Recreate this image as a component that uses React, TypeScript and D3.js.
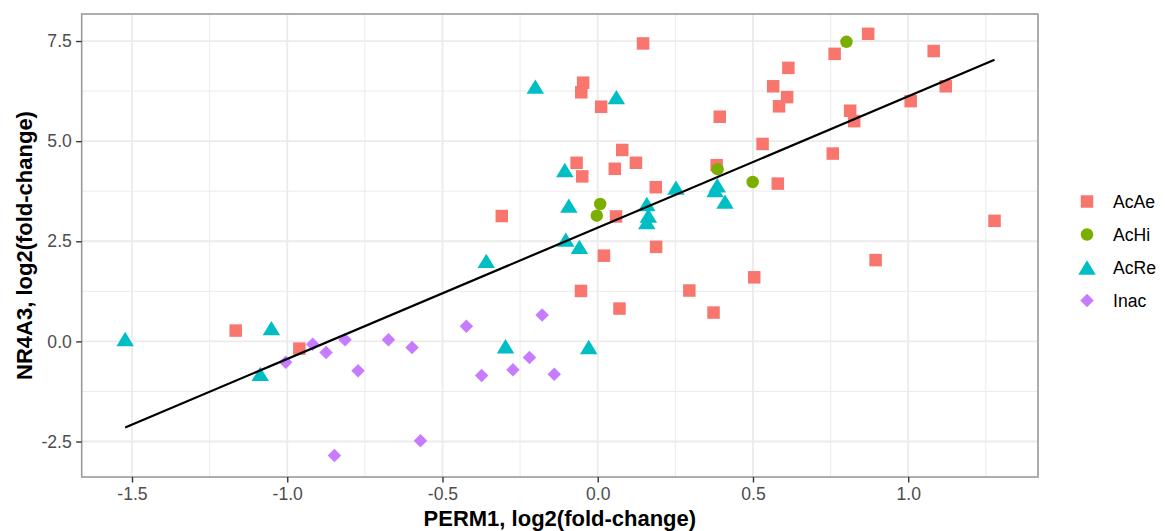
import React, { useEffect, useRef } from "react";
import * as d3 from "d3";

// PERM1 vs NR4A3 log2 fold-change, one array per group
const acAeX = [-1.166, -0.961, -0.309, -0.054, -0.047, -0.053, 0.011, 0.146, -0.068, -0.05, 0.079, 0.123, 0.055, 0.187, 0.059, 0.188, 0.02, 0.393, 0.383, 0.295, 0.07, 0.373, 0.871, 0.763, 1.082, 0.614, 0.565, 0.61, 0.584, 1.121, 1.008, 0.813, 0.826, 0.531, 0.757, 0.58, 1.278, 0.895, 0.504];
const acAeY = [0.27, -0.18, 3.13, 1.26, 6.46, 6.22, 5.86, 7.44, 4.46, 4.12, 4.78, 4.46, 4.31, 3.85, 3.12, 2.36, 2.14, 5.61, 4.4, 1.27, 0.82, 0.72, 7.68, 7.18, 7.25, 6.83, 6.37, 6.1, 5.87, 6.37, 6.0, 5.76, 5.5, 4.93, 4.69, 3.94, 3.01, 2.03, 1.6];

const acHiX = [0.008, -0.003, 0.801, 0.499, 0.386];
const acHiY = [3.43, 3.14, 7.48, 3.98, 4.3];

const acReX = [-0.201, 0.06, -0.106, -0.093, 0.158, 0.163, 0.158, 0.252, 0.385, 0.378, 0.41, -0.103, -0.059, -0.359, -0.297, -0.029, -1.522, -1.051, -1.087];
const acReY = [6.36, 6.1, 4.28, 3.39, 3.43, 3.14, 2.98, 3.84, 3.9, 3.78, 3.49, 2.54, 2.36, 2.01, -0.12, -0.14, 0.06, 0.33, -0.81];

const inacX = [-1.005, -0.918, -0.875, -0.814, -0.772, -0.674, -0.848, -0.598, -0.571, -0.423, -0.374, -0.273, -0.22, -0.179, -0.14];
const inacY = [-0.52, -0.07, -0.28, 0.04, -0.73, 0.04, -2.85, -0.15, -2.48, 0.38, -0.85, -0.71, -0.4, 0.66, -0.82];

const groups = ["AcAe", "AcHi", "AcRe", "Inac"];
const groupColors = ["#F8766D", "#7CAE00", "#00BFC4", "#C77CFF"];

// fitted line end points
const fitX = [-1.522, 1.278];
const fitY = [-2.15, 7.03];

const xTicks = [-1.5, -1.0, -0.5, 0.0, 0.5, 1.0];
const xMinor = [-1.25, -0.75, -0.25, 0.25, 0.75, 1.25];
const yTicks = [-2.5, 0.0, 2.5, 5.0, 7.5];
const yMinor = [-1.25, 1.25, 3.75, 6.25];

const W = 1165, H = 531;
const FONT = "'Liberation Sans', Arial, Helvetica, sans-serif";

// marker shapes, sized by side/diameter in px
const square = { draw(ctx: any, s: number) { const h = s / 2; ctx.rect(-h, -h, s, s); } };
const circle = { draw(ctx: any, s: number) { ctx.moveTo(s / 2, 0); ctx.arc(0, 0, s / 2, 0, 2 * Math.PI); } };
const triangle = { draw(ctx: any, s: number) { const h = s * 0.82; ctx.moveTo(0, -h / 2); ctx.lineTo(s / 2, h / 2); ctx.lineTo(-s / 2, h / 2); ctx.closePath(); } };
const diamond = { draw(ctx: any, s: number) { const h = s / 2; ctx.moveTo(0, -h); ctx.lineTo(h, 0); ctx.lineTo(0, h); ctx.lineTo(-h, 0); ctx.closePath(); } };
const shapes = [square, circle, triangle, diamond];
const shapeSizes = [12.5, 12.5, 17.5, 13.5];

export default function App() {
  const ref = useRef<SVGSVGElement>(null);

  useEffect(() => {
    const svg = d3.select(ref.current);
    svg.selectAll("*").remove();

    const left = 81.7, right = 1038, top = 14, bottom = 477;

    const x = d3.scaleLinear().domain([-1.662, 1.418]).range([left, right]);
    const y = d3.scaleLinear().domain([-3.386, 8.175]).range([bottom, top]);

    svg.append("rect").attr("width", W).attr("height", H).attr("fill", "#fff");

    const grid = svg.append("g");
    grid.selectAll(".xm").data(xMinor).join("line")
      .attr("x1", d => x(d)).attr("x2", d => x(d)).attr("y1", top).attr("y2", bottom)
      .attr("stroke", "#EBEBEB").attr("stroke-width", 1);
    grid.selectAll(".ym").data(yMinor).join("line")
      .attr("y1", d => y(d)).attr("y2", d => y(d)).attr("x1", left).attr("x2", right)
      .attr("stroke", "#EBEBEB").attr("stroke-width", 1);
    grid.selectAll(".xM").data(xTicks).join("line")
      .attr("x1", d => x(d)).attr("x2", d => x(d)).attr("y1", top).attr("y2", bottom)
      .attr("stroke", "#EBEBEB").attr("stroke-width", 1.8);
    grid.selectAll(".yM").data(yTicks).join("line")
      .attr("y1", d => y(d)).attr("y2", d => y(d)).attr("x1", left).attr("x2", right)
      .attr("stroke", "#EBEBEB").attr("stroke-width", 1.8);

    // points
    const series = [[acAeX, acAeY], [acHiX, acHiY], [acReX, acReY], [inacX, inacY]];
    series.forEach(([xs, ys], i) => {
      const sym = d3.symbol().type(shapes[i] as any).size(shapeSizes[i]);
      svg.append("g").selectAll("path").data(xs.map((v, j) => [v, ys[j]])).join("path")
        .attr("transform", d => `translate(${x(d[0])},${y(d[1])})`)
        .attr("d", sym())
        .attr("fill", groupColors[i]);
    });

    // fit line
    const line = d3.line<number>().x(d => x(d)).y((d, i) => y(fitY[i]));
    svg.append("path").datum(fitX).attr("d", line)
      .attr("fill", "none").attr("stroke", "#000").attr("stroke-width", 2.2);

    // panel border
    svg.append("rect").attr("x", left).attr("y", top)
      .attr("width", right - left).attr("height", bottom - top)
      .attr("fill", "none").attr("stroke", "#999").attr("stroke-width", 1.6);

    // axes
    const xAxis = svg.append("g").attr("transform", `translate(0,${bottom})`)
      .call(d3.axisBottom(x).tickValues(xTicks).tickSize(5.5).tickPadding(5).tickFormat(d3.format(".1f")));
    xAxis.select(".domain").remove();
    xAxis.selectAll("line").attr("stroke", "#333").attr("stroke-width", 1.4);
    xAxis.selectAll("text").attr("fill", "#4D4D4D").attr("font-size", 17.6).attr("font-family", FONT)
      .text(d => d3.format(".1f")(d as number).replace("−", "-"));

    const yAxis = svg.append("g").attr("transform", `translate(${left},0)`)
      .call(d3.axisLeft(y).tickValues(yTicks).tickSize(5.5).tickPadding(4.4));
    yAxis.select(".domain").remove();
    yAxis.selectAll("line").attr("stroke", "#333").attr("stroke-width", 1.4);
    yAxis.selectAll("text").attr("fill", "#4D4D4D").attr("font-size", 17.6).attr("font-family", FONT)
      .text(d => d3.format(".1f")(d as number).replace("−", "-"));

    // titles
    svg.append("text").attr("x", (left + right) / 2).attr("y", 526)
      .attr("text-anchor", "middle").attr("font-size", 22).attr("font-weight", "bold")
      .attr("font-family", FONT).attr("fill", "#000").text("PERM1, log2(fold-change)");
    svg.append("text").attr("transform", `translate(32,${(top + bottom) / 2}) rotate(-90)`)
      .attr("text-anchor", "middle").attr("font-size", 22).attr("font-weight", "bold")
      .attr("font-family", FONT).attr("fill", "#000").text("NR4A3, log2(fold-change)");

    // legend
    const legY = d3.scalePoint<string>().domain(groups).range([201.5, 300.5]);
    const leg = svg.append("g");
    groups.forEach((g, i) => {
      leg.append("path").attr("transform", `translate(1087,${legY(g)})`)
        .attr("d", d3.symbol().type(shapes[i] as any).size(shapeSizes[i])())
        .attr("fill", groupColors[i]);
      leg.append("text").attr("x", 1113).attr("y", legY(g)!).attr("dy", "0.35em")
        .attr("font-size", 17.6).attr("font-family", FONT).attr("fill", "#000").text(g);
    });
  }, []);

  return (
    <div style={{ position: "absolute", left: 0, top: 0 }}>
      <svg ref={ref} width={W} height={H} />
    </div>
  );
}
